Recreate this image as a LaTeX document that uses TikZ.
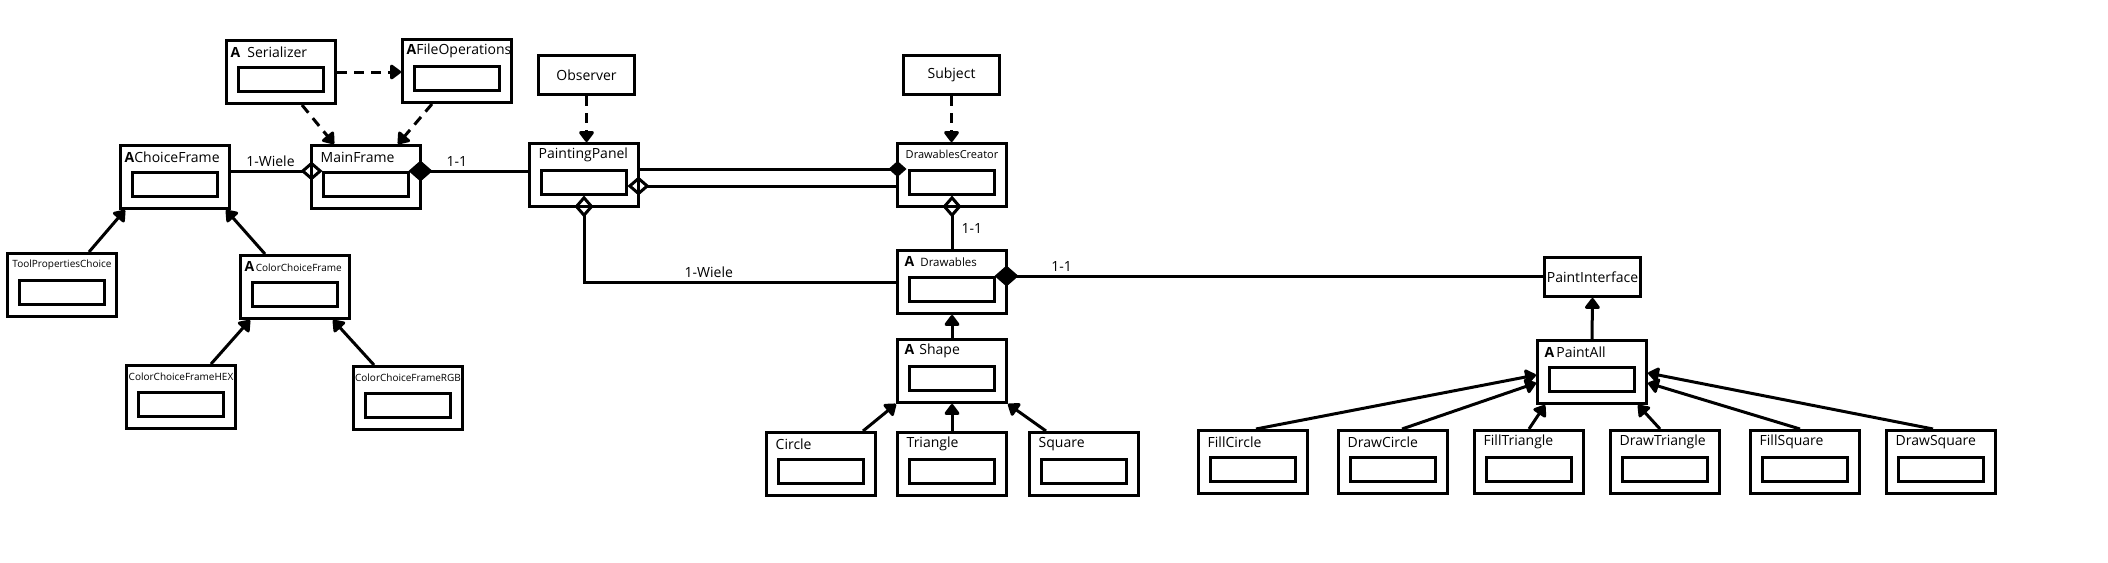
\documentclass[tikz,border=0pt]{standalone}
\usepackage{fontspec}
\setmainfont{Open Sans}
\usetikzlibrary{arrows.meta,positioning}
\newcommand{\ClsFont}{\fontsize{14}{16}\selectfont}
\newcommand{\ClsSmallFont}{\fontsize{10}{12}\selectfont}
\tikzstyle{Class} = [draw, line width=3pt, minimum width=109pt, minimum height=63pt, inner sep=0pt,
    path picture={\draw[line width=3pt] ([xshift=12pt,yshift=12pt]path picture bounding box.south west)
        rectangle ([xshift=-12pt,yshift=36pt]path picture bounding box.south east);}]
\tikzstyle{Iface} = [draw, line width=3pt, minimum width=96pt, minimum height=39pt, inner sep=1pt, font=\ClsFont]
\tikzstyle{Title} = [anchor=west, inner sep=0pt, xshift=10.5pt, yshift=-13pt, font=\ClsFont]
\tikzstyle{ATitle} = [Title, xshift=-5pt]
\tikzstyle{STitle} = [anchor=center, inner sep=0pt, yshift=-12.5pt, font=\ClsSmallFont]
\tikzstyle{Mult} = [font=\ClsFont, inner sep=3pt]
\tikzstyle{Assoc} = [line width=3pt]
\tikzstyle{Inherit} = [line width=3pt, -{Triangle[width=17pt,length=12pt,round]}]
\tikzstyle{Depend} = [Inherit, dash pattern=on 10pt off 7pt]
\tikzstyle{CompStart} = [{Diamond[length=24pt,width=21pt]}-, shorten <=-13.5pt]
\tikzstyle{CompEnd} = [-{Diamond[length=18pt,width=16pt]}, shorten >=-10.5pt]
\tikzstyle{AggrStart} = [{Diamond[open,length=22pt,width=19pt]}-, shorten <=-12.5pt]
\tikzstyle{AggrEnd} = [-{Diamond[open,length=22pt,width=19pt]}, shorten >=-12.5pt]

\begin{document}
\begin{tikzpicture}[x=1pt, y=-1pt]
    \useasboundingbox (0,0) rectangle (2108,562);
    % frames
    \node[Class, label={[ATitle]north west:{\bfseries A}\hspace{7pt}Serializer}] (serializer) at (281,72) {};
    \node[Class, label={[ATitle]north west:{\bfseries A}FileOperations}] (fileops) at (457,71) {};
    \node[Class, label={[ATitle]north west:{\bfseries A}ChoiceFrame}] (choiceframe) at (175,177) {};
    \node[Class, label={[Title]north west:MainFrame}] (mainframe) at (366,177) {};
    \node[Class, label={[STitle]north:ToolPropertiesChoice}] (toolprops) at (62,285) {};
    \node[Class, label={[ATitle,font=\ClsSmallFont]north west:{\ClsFont\bfseries A}\hspace{1.5pt}ColorChoiceFrame}] (colorchoice) at (295,287) {};
    \node[Class, label={[STitle]north:ColorChoiceFrameHEX}] (colorhex) at (181,397) {};
    \node[Class, label={[STitle]north:ColorChoiceFrameRGB}] (colorrgb) at (408,398) {};
    % panel and drawables
    \node[Iface] (observer) at (586.5,75) {Observer};
    \node[Class, label={[Title]north west:PaintingPanel}] (paintingpanel) at (584,175) {};
    \node[Iface] (subject) at (951.5,75) {Subject};
    \node[Class, label={[STitle,font=\fontsize{11}{13}\selectfont]north:DrawablesCreator}] (creator) at (952,175) {};
    \node[Class, label={[ATitle,xshift=3pt,font=\fontsize{11.5}{13}\selectfont]north west:{\ClsFont\bfseries A}\hspace{6pt}Drawables}] (drawables) [below=41pt of creator] {};
    \node[Class, label={[ATitle,xshift=3pt]north west:{\bfseries A}\hspace{5pt}Shape}] (shape) [below=23pt of drawables] {};
    \node[Class, label={[Title]north west:Triangle}] (triangle) [below=27pt of shape] {};
    \node[Class, label={[Title]north west:Circle}] (circle) [left=19pt of triangle] {};
    \node[Class, label={[Title]north west:Square}] (square) [right=20pt of triangle] {};
    % painting
    \node[Iface] (paintinterface) at (1592.5,277) {PaintInterface};
    \node[Class, label={[ATitle,xshift=3pt]north west:{\bfseries A}\hspace{2pt}PaintAll}] (paintall) at (1592,372) {};
    \node[Class, label={[Title]north west:FillCircle}] (fillcircle) at (1253,462) {};
    \node[Class, label={[Title]north west:DrawCircle}] (drawcircle) [right=28pt of fillcircle] {};
    \node[Class, label={[Title]north west:FillTriangle}] (filltriangle) [right=24pt of drawcircle] {};
    \node[Class, label={[Title]north west:DrawTriangle}] (drawtriangle) [right=24pt of filltriangle] {};
    \node[Class, label={[Title]north west:FillSquare}] (fillsquare) [right=28pt of drawtriangle] {};
    \node[Class, label={[Title]north west:DrawSquare}] (drawsquare) [right=24pt of fillsquare] {};

    \draw[Depend] (serializer.east) -- (serializer.east -| fileops.west);
    \draw[Depend] ([xshift=21pt]serializer.south) -- ([xshift=-32pt]mainframe.north);
    \draw[Depend] ([xshift=-25pt]fileops.south) -- ([xshift=32pt]mainframe.north);
    \draw[Assoc, AggrEnd] ([yshift=6pt]choiceframe.east) -- node[Mult, above] {1-Wiele} ([yshift=6pt]mainframe.west);
    \draw[Assoc, CompStart] ([yshift=6pt]mainframe.east) -- node[Mult, above, pos=0.33] {1-1} ([yshift=6pt]mainframe.east -| paintingpanel.west);
    \draw[Inherit] ([xshift=27pt]toolprops.north) -- ([xshift=-50pt]choiceframe.south);
    \draw[Inherit] ([xshift=-30pt]colorchoice.north) -- ([xshift=51pt]choiceframe.south);
    \draw[Inherit] ([xshift=30pt]colorhex.north) -- ([xshift=-45pt]colorchoice.south);
    \draw[Inherit] ([xshift=-34pt]colorrgb.north) -- ([xshift=38pt]colorchoice.south);

    \draw[Depend] (observer.south) -- (observer.south |- paintingpanel.north);
    \draw[Depend] (subject.south) -- (subject.south |- creator.north);
    \draw[Assoc, CompEnd] ([yshift=6pt]paintingpanel.east) -- ([yshift=6pt]creator.west);
    \draw[Assoc, AggrStart] ([yshift=-11pt]paintingpanel.east) -- ([yshift=-11pt]creator.west);
    \draw[Assoc, AggrStart] (paintingpanel.south) |- node[Mult, above, pos=0.7] {1-Wiele} (drawables.west);
    \draw[Assoc, AggrStart] (creator.south) -- node[Mult, right=5pt] {1-1} (drawables.north);
    \draw[Assoc, CompStart] ([yshift=6pt]drawables.east) -- node[Mult, above, pos=0.1] {1-1} ([yshift=6pt]drawables.east -| paintinterface.west);
    \draw[Inherit] (shape.north) -- (drawables.south);
    \draw[Inherit] ([xshift=42pt]circle.north) -- (shape.south west);
    \draw[Inherit] (triangle.north) -- (shape.south);
    \draw[Inherit] ([xshift=-38pt]square.north) -- (shape.south east);

    \draw[Inherit] (paintall.north) -- (paintinterface.south);
    \draw[Inherit] ([xshift=3pt]fillcircle.north) -- ([yshift=-3pt]paintall.west);
    \draw[Inherit] ([xshift=9pt]drawcircle.north) -- ([yshift=-11pt]paintall.west);
    \draw[Inherit] (filltriangle.north) -- ([xshift=-47pt]paintall.south);
    \draw[Inherit] ([xshift=-5pt]drawtriangle.north) -- ([xshift=46pt]paintall.south);
    \draw[Inherit] ([xshift=-5pt]fillsquare.north) -- ([yshift=-11pt]paintall.east);
    \draw[Inherit] ([xshift=-8pt]drawsquare.north) -- ([yshift=-1pt]paintall.east);
\end{tikzpicture}
\end{document}
